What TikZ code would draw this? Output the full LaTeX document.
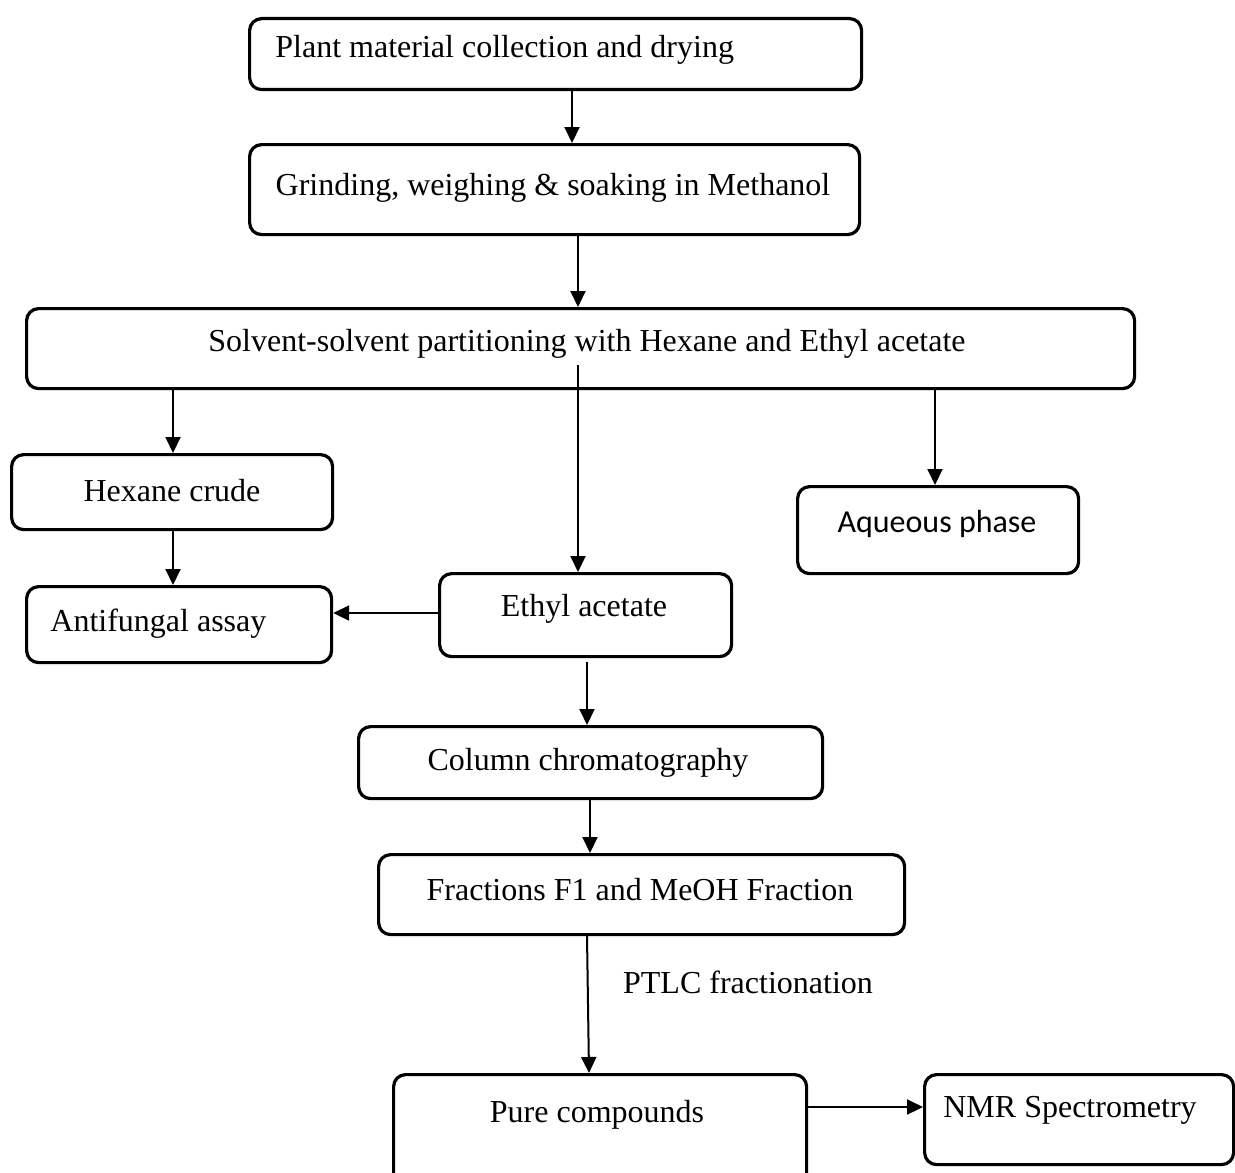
\documentclass[tikz,border=0pt]{standalone}
\usepackage{fontspec}
\setmainfont{Liberation Serif}
\newfontfamily\calibrifont{Carlito}
\usetikzlibrary{arrows.meta,calc}
\begin{document}
\begin{tikzpicture}[x=0.5pt,y=-0.5pt,
  box/.style={draw, line width=1.6pt, rounded corners=6pt, inner sep=0pt, anchor=north west},
  lbl/.style={font=\fontsize{16}{19}\selectfont, inner sep=0pt},
  arr/.style={line width=1pt, -{Triangle[length=8pt,width=7.5pt]}}]
\useasboundingbox (0,0) rectangle (1235,1172);
\clip (0,0) rectangle (1235,1172);
% boxes
\node[box, minimum width=306pt, minimum height=35.5pt] (b1) at (248,17) {};
\node[box, minimum width=305pt, minimum height=45pt] (b2) at (248,143) {};
\node[box, minimum width=554pt, minimum height=40pt] (b3) at (25,307) {};
\node[box, minimum width=160.5pt, minimum height=37.5pt] (b4) at (10,453) {};
\node[box, minimum width=140.5pt, minimum height=43.5pt] (b5) at (796,485) {};
\node[box, minimum width=146pt, minimum height=41.5pt] (b6) at (438,572) {};
\node[box, minimum width=152.5pt, minimum height=38pt] (b7) at (25,585) {};
\node[box, minimum width=232pt, minimum height=36pt] (b8) at (357,725) {};
\node[box, minimum width=263pt, minimum height=40pt] (b9) at (377,853) {};
\node[box, minimum width=206.5pt, minimum height=60pt] (b10) at (392,1073) {};
\node[box, minimum width=154.5pt, minimum height=45pt] (b11) at (923,1073) {};
% texts
\node[lbl, anchor=west] (t1) at (275,50) {Plant material collection and drying};
\node[lbl] (t2) at (553,188) {Grinding, weighing \& soaking in Methanol};
\node[lbl] (t3) at (587,344) {Solvent-solvent partitioning with Hexane and Ethyl acetate};
\node[lbl] (t4) at (172,491) {Hexane crude};
\node[lbl, font=\calibrifont\fontsize{16}{19}\selectfont] (t5) at (937,524) {Aqueous phase};
\node[lbl] (t6) at (584,609) {Ethyl acetate};
\node[lbl, anchor=west] (t7) at (50,624) {Antifungal assay};
\node[lbl] (t8) at (588,763) {Column chromatography};
\node[lbl] (t9) at (640,890) {Fractions F1 and MeOH Fraction};
\node[lbl] (t10) at (597,1115) {Pure compounds};
\node[lbl] (t11) at (1070,1110) {NMR Spectrometry};
\node[lbl] (t12) at (748,982) {PTLC fractionation};
% helper coordinates
\coordinate (x1) at (572,0);
\coordinate (x2) at (578,0);
\coordinate (x3) at (173,0);
\coordinate (x4) at (935,0);
\coordinate (m0) at (578,365);
\coordinate (ya) at (0,613);
\coordinate (c0) at (587,662);
\coordinate (x6) at (590,0);
\coordinate (x7) at (587,0);
\coordinate (x8) at (589,0);
\coordinate (yb) at (0,1107);
% connectors
\draw[arr] (b1.south -| x1) -- (b2.north -| x1);
\draw[arr] (b2.south -| x2) -- (b3.north -| x2);
\draw[arr] (b3.south -| x3) -- (b4.north -| x3);
\draw[arr] (m0) -- (b6.north -| m0);
\draw[arr] (b3.south -| x4) -- (b5.north -| x4);
\draw[arr] (b4.south -| x3) -- (b7.north -| x3);
\draw[arr] (b6.west |- ya) -- (b7.east |- ya);
\draw[arr] (c0) -- (b8.north -| c0);
\draw[arr] (b8.south -| x6) -- (b9.north -| x6);
\draw[arr] (b9.south -| x7) -- (b10.north -| x8);
\draw[arr] (b10.east |- yb) -- (b11.west |- yb);
\end{tikzpicture}
\end{document}
